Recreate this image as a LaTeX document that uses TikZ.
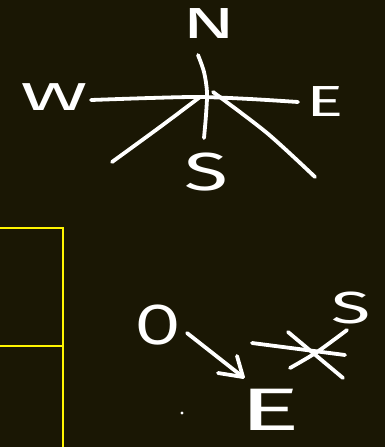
\documentclass[tikz,border=0pt]{standalone}
\usepackage{fontspec}
\setmainfont{Fira Sans}
\definecolor{bgc}{RGB}{26,23,4}
\definecolor{ylw}{RGB}{255,245,0}
\tikzset{
  chalk/.style={draw=white, line width=3.8pt, line cap=round, line join=round},
  letter/.style={text=white, inner sep=0pt, anchor=center},
  frame/.style={draw=ylw, line width=2.8pt}
}
\begin{document}
\begin{tikzpicture}[x=1pt,y=-1pt]
\fill[bgc] (0,0) rectangle (385,447);
\useasboundingbox (0,0) rectangle (385,447);
% compass
\node[letter, xscale=1.8, font=\fontsize{43.5}{43.5}\selectfont] (N) at (209,24) {N};
\node[letter, xscale=2.1, font=\fontsize{39}{39}\selectfont] (W) at (54,97) {W};
\node[letter, xscale=1.6, font=\fontsize{43.5}{43.5}\selectfont] (E) at (325,102) {E};
\node[letter, xscale=1.5, font=\fontsize{53.6}{53.6}\selectfont] (S) at (206,172) {S};
\draw[chalk] plot[smooth] coordinates {(198,55) (204,72) (207,92) (206,115) (204,138)};
\draw[chalk] plot[smooth] coordinates {(91,100) (150,98) (200,97) (250,99) (298,102)};
\draw[chalk] plot[smooth] coordinates {(112,162) (160,127) (200,97)};
\draw[chalk] plot[smooth] coordinates {(213,92) (267,133) (315,177)};
% yellow frame
\draw[frame] (-5,228) -- (63,228) -- (63,452);
\draw[frame] (-5,346) -- (63,346);
% lower sketch
\node[letter, xscale=1.15, font=\fontsize{56.5}{56.5}\selectfont] (O) at (158,325) {O};
\node[letter, xscale=1.9, font=\fontsize{60}{60}\selectfont] (E2) at (270,410) {E};
\node[letter, xscale=1.6, font=\fontsize{45}{45}\selectfont] (S2) at (351,308) {S};
\coordinate (astart) at (187,333);
\coordinate (aend) at (243,377);
\draw[chalk] (astart) -- (aend);
\draw[chalk] (aend) -- ++(-25,-4);
\draw[chalk] (aend) -- ++(-6,-21);
\draw[chalk] (252,343) -- (345,355);
\draw[chalk] (288,332) -- (343,378);
\draw[chalk] plot[smooth] coordinates {(290,368) (317,352) (347,330)};
\fill[white] (182,413) circle (1.6);
\end{tikzpicture}
\end{document}
